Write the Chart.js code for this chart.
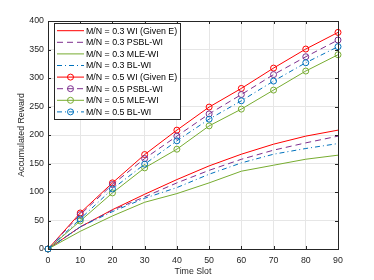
<!DOCTYPE html>
<html>
<head>
<meta charset="utf-8">
<script src="https://cdn.jsdelivr.net/npm/chart.js@4"></script>
<style>
    html, body { margin: 0; padding: 0; background: #fff; }
    #wrap { width: 374px; height: 280px; }
</style>
</head>
<body>
<div id="wrap"><canvas id="rewardChart"></canvas></div>
<script>
// data
var timeSlots = ['0', '10', '20', '30', '40', '50', '60', '70', '80', '90'];
var yTicks = [0, 50, 100, 150, 200, 250, 300, 350, 400];

var wiGiven03 = [0, 38.7, 69, 96, 121.8, 145.8, 166.3, 183.9, 198, 208.5];
var psbl03    = [0, 38.7, 68, 91.4, 116, 138, 157.4, 173.4, 186.2, 198];
var mle03     = [0, 31, 58, 82, 97.2, 116, 136.5, 147, 157.5, 164.6];
var bl03      = [0, 38.7, 65.6, 89, 107.8, 131.2, 151, 166.3, 176.3, 185];
var wiGiven05 = [0, 63.2, 116, 165.7, 208.5, 249, 281.7, 317.4, 350.8, 380];
var psbl05    = [0, 60.3, 113, 158.7, 198, 237, 271, 306, 337.3, 366.6];
var mle05     = [0, 49.2, 98.4, 142.3, 175.1, 216, 245.4, 278.8, 312.2, 340.8];
var bl05      = [0, 52.7, 105.4, 148.8, 189.8, 227.8, 260, 294.6, 326.8, 355];

var seriesNames = [
    'M/N = 0.3 WI (Given E)', 'M/N = 0.3 PSBL-WI', 'M/N = 0.3 MLE-WI', 'M/N = 0.3 BL-WI',
    'M/N = 0.5 WI (Given E)', 'M/N = 0.5 PSBL-WI', 'M/N = 0.5 MLE-WI', 'M/N = 0.5 BL-WI'
];

var RED = '#ff0000', PURPLE = '#7e2f8e', GREEN = '#77ac30', BLUE = '#0072bd';
var DASH = [6, 4], DASHDOT = [5, 3, 1, 3];

function makeSet(i, values, color, dash, marker) {
    return {
        label: seriesNames[i],
        data: values,
        borderColor: color,
        backgroundColor: 'rgba(0,0,0,0)',
        borderWidth: 1,
        borderDash: dash,
        pointRadius: marker ? 3 : 0,
        pointBorderWidth: 1,
        pointBorderColor: color,
        pointBackgroundColor: 'rgba(0,0,0,0)',
        pointHoverRadius: marker ? 3 : 0,
        tension: 0,
        clip: false,
        order: 8 - i
    };
}

Chart.defaults.font.family = "'Liberation Sans', Arial, sans-serif";
Chart.defaults.font.size = 8.8;
Chart.defaults.color = '#262626';

// MATLAB style box, inward ticks and legend
var matlabBox = {
    id: 'matlabBox',
    afterDraw: function(chart) {
        var ctx = chart.ctx, a = chart.chartArea;
        var xs = chart.scales.x, ys = chart.scales.y;
        ctx.save();
        ctx.strokeStyle = '#262626';
        ctx.lineWidth = 1;
        ctx.setLineDash([]);
        ctx.beginPath();
        for (var i = 0; i < timeSlots.length; i++) {
            var px = Math.round(xs.getPixelForValue(i)) + 0.5;
            ctx.moveTo(px, a.bottom); ctx.lineTo(px, a.bottom - 3);
            ctx.moveTo(px, a.top); ctx.lineTo(px, a.top + 3);
        }
        yTicks.forEach(function(v) {
            var py = Math.round(ys.getPixelForValue(v)) + 0.5;
            ctx.moveTo(a.left, py); ctx.lineTo(a.left + 3, py);
            ctx.moveTo(a.right, py); ctx.lineTo(a.right - 3, py);
        });
        ctx.stroke();
        ctx.strokeRect(Math.round(a.left) + 0.5, Math.round(a.top) + 0.5,
            Math.round(a.right - a.left), Math.round(a.bottom - a.top));

        // legend
        var x0 = a.left + 6, y0 = a.top + 2, w = 126, rowH = 11.6;
        ctx.fillStyle = '#fff';
        ctx.fillRect(x0, y0, w, 96);
        ctx.strokeStyle = '#262626';
        ctx.strokeRect(Math.round(x0) + 0.5, Math.round(y0) + 0.5, w, 96);
        ctx.font = "8.8px 'Liberation Sans', Arial, sans-serif";
        ctx.textBaseline = 'middle';
        ctx.textAlign = 'left';
        chart.data.datasets.forEach(function(ds, k) {
            var cy = y0 + 7.7 + k * rowH;
            ctx.strokeStyle = ds.borderColor;
            ctx.lineWidth = 1;
            ctx.setLineDash(ds.borderDash || []);
            ctx.beginPath();
            ctx.moveTo(x0 + 3, cy); ctx.lineTo(x0 + 30, cy);
            ctx.stroke();
            ctx.setLineDash([]);
            if (ds.pointRadius > 0) {
                ctx.beginPath();
                ctx.arc(x0 + 16.5, cy, 3, 0, Math.PI * 2);
                ctx.stroke();
            }
            ctx.fillStyle = '#000';
            ctx.fillText(ds.label, x0 + 32, cy + 0.5);
        });
        ctx.restore();
    }
};

var ctx1 = document.getElementById('rewardChart').getContext('2d');
var rewardChart = new Chart(ctx1, {
    type: 'line',
    data: {
        labels: timeSlots,
        datasets: [
            makeSet(0, wiGiven03, RED, [], false),
            makeSet(1, psbl03, PURPLE, DASH, false),
            makeSet(2, mle03, GREEN, [], false),
            makeSet(3, bl03, BLUE, DASHDOT, false),
            makeSet(4, wiGiven05, RED, [], true),
            makeSet(5, psbl05, PURPLE, DASH, true),
            makeSet(6, mle05, GREEN, [], true),
            makeSet(7, bl05, BLUE, DASHDOT, true)
        ]
    },
    options: {
        responsive: true,
        maintainAspectRatio: false,
        animation: false,
        devicePixelRatio: 1,
        layout: { padding: { left: 0, top: 21, right: 36, bottom: 0 } },
        plugins: {
            legend: { display: false },
            tooltip: { enabled: false }
        },
        scales: {
            x: {
                type: 'category',
                offset: false,
                grid: { color: '#e6e6e6', drawTicks: false },
                border: { display: false },
                ticks: { padding: 6, maxRotation: 0, autoSkip: false },
                title: { display: true, text: 'Time Slot', padding: { top: 0, bottom: 2.7 } },
                afterFit: function(s) { s.height = 31; }
            },
            y: {
                min: 0,
                max: 400,
                grid: { color: '#e6e6e6', drawTicks: false },
                border: { display: false },
                ticks: { stepSize: 50, padding: 4 },
                title: { display: true, text: 'Accumulated Reward', padding: { top: 16.7, bottom: 0 } },
                afterFit: function(s) { s.width = 48; }
            }
        }
    },
    plugins: [matlabBox]
});
</script>
</body>
</html>
